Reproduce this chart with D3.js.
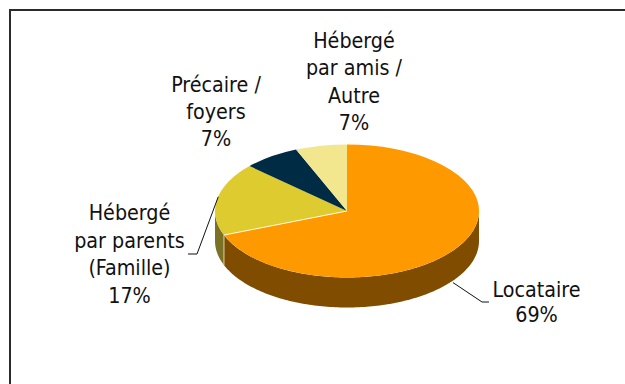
<!DOCTYPE html>
<html>
<head>
<meta charset="utf-8">
<script src="https://cdnjs.cloudflare.com/ajax/libs/d3/7.8.5/d3.min.js"></script>
<style>
  html, body { margin: 0; padding: 0; background: #fff; }
  text { font-family: "DejaVu Sans Condensed", "DejaVu Sans", sans-serif; font-size: 21.3px; fill: #111; text-anchor: middle; }
</style>
</head>
<body>
<div id="chart"></div>
<script>
// printed labels
var labels = ["Locataire", "Hébergé\npar parents\n(Famille)", "Précaire /\nfoyers", "Hébergé\npar amis /\nAutre"];
var percents = ["69%", "17%", "7%", "7%"];
// slice shares as they are drawn in the picture (a bit off the printed % because of the 3d view)
var shares = [69.1, 17.7, 6.9, 6.3];
var topColors = ["#ff9900", "#decb30", "#002b45", "#f2e78f"];
var sideColors = ["#804d00", "#7a7026", "#00151f", "#7a7448"];

// label placement
var labelX = [536.5, 129.5, 216, 354];
var labelY = [297, 220, 92, 48];
var lineH = [25, 27.5, 27, 27.3];

var W = 625, H = 384;
var cx = 347, cy = 211, rx = 132, ry = 66.5, depth = 30;

var svg = d3.select("#chart").append("svg")
  .attr("width", W).attr("height", H)
  .style("display", "block");

// frame, only top and left show
svg.append("path")
  .attr("d", "M10,384V10H625")
  .attr("fill", "none")
  .attr("stroke", "#2b2b2b")
  .attr("stroke-width", 2);

var pie = d3.pie().sort(null).value(function(d) { return d; });
var slices = pie(shares);

var px = function(a) { return cx + rx * Math.sin(a); };
var py = function(a) { return cy - ry * Math.cos(a); };

// side wall, only the front half of the ellipse is visible
var walls = svg.append("g");
slices.forEach(function(s, i) {
  var a0 = Math.max(s.startAngle, Math.PI / 2);
  var a1 = Math.min(s.endAngle, Math.PI * 1.5);
  if (a1 <= a0) return;
  var angles = d3.range(a0, a1, 0.02).concat([a1]);
  var wall = d3.area()
    .x(function(a) { return px(a); })
    .y0(function(a) { return py(a); })
    .y1(function(a) { return py(a) + depth; });
  walls.append("path")
    .attr("d", wall(angles))
    .attr("fill", sideColors[i]);
});

// top face, unit arc squashed into the ellipse
var arc = d3.arc().innerRadius(0).outerRadius(1);
svg.append("g")
  .attr("transform", "translate(" + cx + "," + cy + ") scale(" + rx + "," + ry + ")")
  .selectAll("path")
  .data(slices)
  .enter().append("path")
  .attr("d", arc)
  .attr("fill", function(d, i) { return topColors[i]; });

// pale seam between Locataire and Hébergé
var seam = slices[0].endAngle;
svg.append("line")
  .attr("x1", cx).attr("y1", cy)
  .attr("x2", px(seam)).attr("y2", py(seam))
  .attr("stroke", "#fff8d8").attr("stroke-width", 1);
svg.append("line")
  .attr("x1", px(seam)).attr("y1", py(seam))
  .attr("x2", px(seam)).attr("y2", py(seam) + depth)
  .attr("stroke", "#d9d2a8").attr("stroke-width", 1);

// leader lines
var leader = d3.line().curve(d3.curveLinear);
var midL = (slices[0].startAngle + slices[0].endAngle) / 2;
var midH = (slices[1].startAngle + slices[1].endAngle) / 2;
svg.append("path")
  .attr("d", leader([[px(midL) - 3, py(midL) + depth + 4], [482, 302], [489, 302]]))
  .attr("fill", "none").attr("stroke", "#111").attr("stroke-width", 1);
svg.append("path")
  .attr("d", leader([[px(midH) + 1, py(midH) - 2], [197, 254], [188, 254]]))
  .attr("fill", "none").attr("stroke", "#111").attr("stroke-width", 1);

// labels
labels.forEach(function(name, i) {
  var lines = name.split("\n").concat([percents[i]]);
  var t = svg.append("text").attr("x", labelX[i]).attr("y", labelY[i]);
  lines.forEach(function(l, j) {
    t.append("tspan").attr("x", labelX[i]).attr("dy", j ? lineH[i] : 0).text(l);
  });
});
</script>
</body>
</html>
